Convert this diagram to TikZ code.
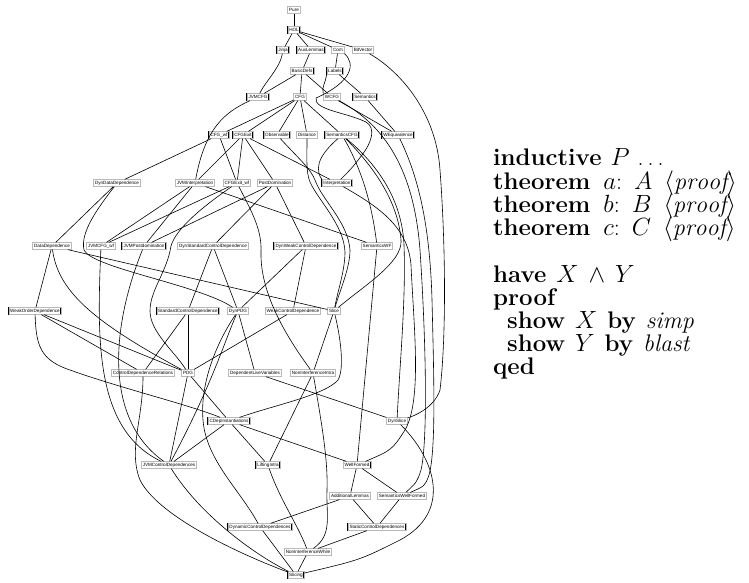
\documentclass[tikz,border=0pt]{standalone}
\usepackage{fontspec}
\setsansfont{Liberation Sans}
\begin{document}
\begin{tikzpicture}[x=1pt,y=-1pt,
  th/.style={draw=black,line width=0.5pt,double=gray!55,double distance=0.5pt,fill=white,
    font=\sffamily\fontsize{4.6}{5}\selectfont,inner xsep=1.4pt,inner ysep=0.9pt,minimum height=6.8pt},
  ed/.style={line width=0.6pt}]
\useasboundingbox (0,0) rectangle (749,582);
\begin{scope}[every node/.style={th}]
\node (Pure) at (294,10) {Pure};
\node (HOL) at (294,30) {HOL};
\node (Jinja) at (283,50) {Jinja};
\node (AuxLemmas) at (311,50) {AuxLemmas};
\node (Com) at (338,50) {Com};
\node (BitVector) at (363,50) {BitVector};
\node (BasicDefs) at (302,71) {BasicDefs};
\node (Labels) at (335,71) {Labels};
\node (JVMCFG) at (258,97) {JVMCFG};
\node (CFG) at (300,97) {CFG};
\node (WCFG) at (332,97) {WCFG};
\node (Semantics) at (365,97) {Semantics};
\node (CFGwf) at (219,135) {CFG\_wf};
\node (CFGExit) at (243,135) {CFGExit};
\node (Observable) at (277,135) {Observable};
\node (Distance) at (307,135) {Distance};
\node (SemanticsCFG) at (342,135) {SemanticsCFG};
\node (WEquivalence) at (398,135) {WEquivalence};
\node (DynDataDependence) at (117,183) {DynDataDependence};
\node (JVMInterpretation) at (195,183) {JVMInterpretation};
\node (CFGExitwf) at (237,183) {CFGExit\_wf};
\node (PostDomination) at (275,183) {PostDomination};
\node (Interpretation) at (337,183) {Interpretation};
\node (DataDependence) at (52,246) {DataDependence};
\node (JVMCFGwf) at (101,246) {JVMCFG\_wf};
\node (JVMPostdomination) at (144,246) {JVMPostdomination};
\node (DynStd) at (213,246) {DynStandardControlDependence};
\node (DynWeak) at (306,246) {DynWeakControlDependence};
\node (SemanticsWF) at (377,246) {SemanticsWF};
\node (WeakOrder) at (35,311) {WeakOrderDependence};
\node (StdCD) at (188,311) {StandardControlDependence};
\node (DynPDG) at (238,311) {DynPDG};
\node (WeakCD) at (293,311) {WeakControlDependence};
\node (Slice) at (334,311) {Slice};
\node (CDRel) at (143,373) {ControlDependenceRelations};
\node (PDG) at (188,373) {PDG};
\node (DLV) at (255,373) {DependentLiveVariables};
\node (NII) at (313,373) {NonInterferenceIntra};
\node (CDepInst) at (229,421) {CDepInstantiations};
\node (DynSlice) at (397,421) {DynSlice};
\node (JVMCD) at (169,465) {JVMControlDependences};
\node (LiftingIntra) at (268,465) {LiftingIntra};
\node (WellFormed) at (357,465) {WellFormed};
\node (AddLemmas) at (350,496) {AdditionalLemmas};
\node (SemWF) at (402,496) {SemanticsWellFormed};
\node (DynCD) at (260,527) {DynamicControlDependences};
\node (StatCD) at (377,527) {StaticControlDependences};
\node (NIW) at (308,552) {NonInterferenceWhile};
\node (Slicing) at (296,575) {Slicing};
\end{scope}
\begin{scope}[ed]
% top
\draw (Pure)--(HOL);
\draw (HOL)--(Jinja); \draw (HOL)--(AuxLemmas); \draw (HOL)--(Com); \draw (HOL)--(BitVector);
\draw (Jinja) .. controls (280,68) and (265,82) .. (JVMCFG);
\draw (AuxLemmas)--(BasicDefs);
\draw (Com)--(Labels);
\draw (BasicDefs)--(JVMCFG); \draw (BasicDefs)--(CFG); \draw (BasicDefs)--(WCFG);
\draw (Labels)--(Semantics);
\draw (Labels.south west) .. controls (326,82) and (321,88) .. (WCFG.north west);
\draw (Com.south east) .. controls (356,64) and (352,82) .. (316,98) .. controls (314,110) and (345,112) .. (366,122)
   .. controls (376,128) and (372,142) .. (362,155) .. controls (352,168) .. (Interpretation);
\draw (CFG)--(CFGwf); \draw (CFG)--(CFGExit); \draw (CFG)--(Observable); \draw (CFG)--(Distance); \draw (CFG)--(SemanticsCFG);
\draw (WCFG)--(WEquivalence); \draw (Semantics)--(WEquivalence);
% right-hand long edges
\draw (SemanticsCFG) .. controls (325,150) and (312,165) .. (Interpretation.north west);
\draw (SemanticsCFG) .. controls (362,170) and (372,205) .. (SemanticsWF);
\draw (SemanticsCFG) .. controls (372,165) and (398,200) .. (401,240) .. controls (403,262) and (365,285) .. (Slice);
\draw (SemanticsCFG) .. controls (378,165) and (402,200) .. (404,245) .. controls (406,300) and (400,360) .. (DynSlice);
\draw (WCFG) .. controls (385,125) and (414,170) .. (420,250) .. controls (426,340) and (428,440) .. (421,470) .. controls (417,482) .. (SemWF);
\draw (WEquivalence) .. controls (420,180) and (430,230) .. (432,300) .. controls (434,380) and (436,450) .. (429,475) .. controls (425,486) .. (SemWF);
\draw (BitVector) .. controls (398,70) and (436,110) .. (440,170) .. controls (446,250) and (446,340) .. (440,390) .. controls (434,408) and (414,416) .. (DynSlice);
\draw (Interpretation) .. controls (375,205) and (408,225) .. (411,265) .. controls (414,330) and (422,400) .. (405,430) .. controls (392,450) .. (WellFormed);
\draw (SemanticsWF)--(WellFormed);
% middle
\draw (JVMCFG) .. controls (225,112) and (205,128) .. (JVMInterpretation);
\draw (CFGExit)--(JVMInterpretation);
\draw (CFGwf)--(DynDataDependence); \draw (CFGwf)--(CFGExitwf);
\draw (CFGExit)--(CFGExitwf); \draw (CFGExit)--(PostDomination); \draw (CFGExit)--(Interpretation);
\draw (JVMInterpretation)--(JVMCFGwf); \draw (JVMInterpretation)--(JVMPostdomination);
\draw (JVMInterpretation)--(SemanticsWF);
\draw (CFGExitwf)--(JVMCFGwf);
\draw (CFGExitwf) .. controls (205,205) and (176,228) .. (171,246) .. controls (167,272) and (150,290) .. (150,311) .. controls (150,332) and (175,352) .. (PDG);
\draw (CFGExitwf) .. controls (252,212) and (262,230) .. (261,252) .. controls (260,292) and (285,335) .. (NII);
\draw (PostDomination)--(JVMPostdomination); \draw (PostDomination)--(DynStd); \draw (PostDomination)--(DynWeak);
\draw (DynDataDependence)--(DataDependence);
\draw (DynDataDependence) .. controls (98,208) and (80,232) .. (84,250) .. controls (92,268) and (200,285) .. (DynPDG);
\draw (Observable) .. controls (300,160) and (310,168) .. (315,180) .. controls (322,200) and (348,222) .. (350,250) .. controls (350,268) and (340,290) .. (Slice);
\draw (Distance) .. controls (307,160) and (306,172) .. (310,182) .. controls (318,200) and (344,225) .. (345,252) .. controls (345,270) and (338,290) .. (Slice);
\draw (DataDependence)--(WeakOrder); \draw (DataDependence)--(Slice);
\draw (DataDependence) .. controls (58,290) and (90,320) .. (PDG);
\draw (DynStd)--(StdCD); \draw (DynStd)--(DynPDG);
\draw (DynWeak)--(WeakCD); \draw (DynWeak)--(DynPDG);
\draw (StdCD)--(PDG); \draw (StdCD)--(CDRel);
\draw (WeakOrder)--(PDG); \draw (WeakOrder)--(CDRel);
\draw (WeakOrder) .. controls (36,345) and (40,360) .. (70,370) .. controls (120,388) and (190,405) .. (CDepInst);
\draw (WeakCD)--(PDG);
\draw (DynPDG)--(DLV);
\draw (DynPDG) .. controls (225,340) and (212,385) .. (JVMCD);
\draw (DynPDG) .. controls (215,345) and (200,385) .. (203,420) .. controls (206,460) and (240,490) .. (DynCD);
\draw (Slice)--(NII);
\draw (Slice) .. controls (340,335) and (345,368) .. (338,380) .. controls (325,395) and (275,405) .. (CDepInst);
\draw (PDG)--(CDepInst); \draw (PDG)--(JVMCD);
\draw (DLV)--(DynSlice);
\draw (JVMCFGwf) .. controls (97,340) and (95,430) .. (JVMCD);
\draw (JVMPostdomination) .. controls (110,330) and (105,420) .. (JVMCD);
\draw (CDRel) .. controls (143,420) and (128,450) .. (140,480) .. controls (160,520) and (255,560) .. (Slicing);
\draw (CDepInst)--(JVMCD); \draw (CDepInst)--(LiftingIntra); \draw (CDepInst)--(WellFormed);
\draw (NII)--(LiftingIntra);
\draw (NII) .. controls (322,425) and (328,460) .. (327,490) .. controls (326,515) and (333,535) .. (NIW);
% bottom
\draw (WellFormed)--(AddLemmas); \draw (WellFormed)--(SemWF);
\draw (AddLemmas)--(StatCD); \draw (SemWF)--(StatCD); \draw (AddLemmas)--(DynCD);
\draw (StatCD)--(NIW); \draw (DynCD)--(Slicing); \draw (NIW)--(Slicing);
\draw (JVMCD) .. controls (200,515) and (255,555) .. (Slicing);
\draw (LiftingIntra) .. controls (280,500) and (298,525) .. (NIW);
\draw (DynSlice) .. controls (436,460) and (452,512) .. (400,540) .. controls (360,560) .. (Slicing);
\end{scope}
\begin{scope}[every node/.style={anchor=base west,inner sep=0pt,font=\fontsize{24}{24}\selectfont}]
\node (l1) at (493,165) {\textbf{inductive}\hspace{9pt}$P$\hspace{8pt}.\hspace{4pt}.\hspace{4pt}.};
\node (l2) at (493,189) {\textbf{theorem}\hspace{13pt}$a$:\hspace{12pt}$A$\hspace{12pt}$\langle\mathit{proof}\rangle$};
\node (l3) at (493,212) {\textbf{theorem}\hspace{13pt}$b$:\hspace{12pt}$B$\hspace{12pt}$\langle\mathit{proof}\rangle$};
\node (l4) at (493,235) {\textbf{theorem}\hspace{13pt}$c$:\hspace{12pt}$C$\hspace{12pt}$\langle\mathit{proof}\rangle$};
\node (l5) at (493,282) {\textbf{have}\hspace{10pt}$X$\hspace{10pt}$\wedge$\hspace{10pt}$Y$};
\node (l6) at (493,305) {\textbf{proof}};
\node (l7) at (507,328) {\textbf{show}\hspace{10pt}$X$\hspace{10pt}\textbf{by}\hspace{10pt}\textit{simp}};
\node (l8) at (507,351) {\textbf{show}\hspace{10pt}$Y$\hspace{10pt}\textbf{by}\hspace{10pt}\textit{blast}};
\node (l9) at (493,374) {\textbf{qed}};
\end{scope}
\end{tikzpicture}
\end{document}
